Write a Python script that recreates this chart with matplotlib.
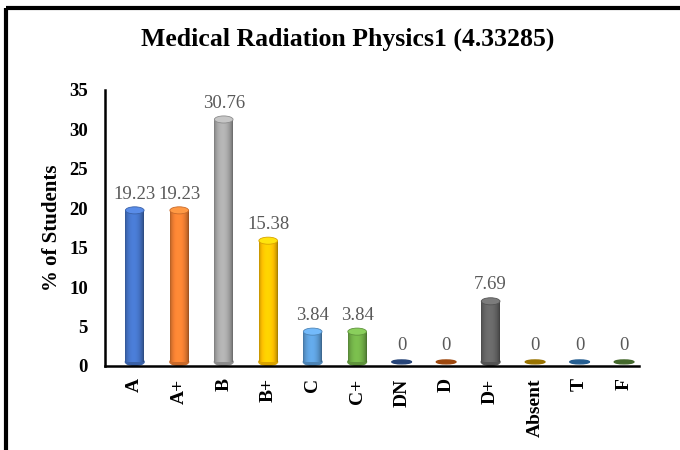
import matplotlib.pyplot as plt
import numpy as np
from matplotlib.patches import Ellipse
from matplotlib.lines import Line2D
from matplotlib.colors import to_rgb

# grade distribution
grades = ['A', 'A+', 'B', 'B+', 'C', 'C+', 'DN', 'D', 'D+', 'Absent', 'T', 'F']
percent = [19.23, 19.23, 30.76, 15.38, 3.84, 3.84, 0, 0, 7.69, 0, 0, 0]
colors = ['#4472C4', '#ED7D31', '#A5A5A5', '#FFC000', '#5B9BD5', '#70AD47',
          '#264478', '#9E480E', '#636363', '#997300', '#255E91', '#43682B']

serif = ['Liberation Serif', 'DejaVu Serif']

fig = plt.figure(figsize=(6.8, 4.5), dpi=100)
ax = fig.add_axes([0.154, 0.187, 0.786, 0.613])

x = np.arange(len(grades))
w = 0.42
base = 0.5   # cylinder floats slightly above the floor
ell_h = 0.9

# shading across the cylinder body
t = np.linspace(0, 1, 64)
shade = 0.72 + 0.45 * np.sin(np.pi * t) ** 0.6 - 0.12 * t

bars = ax.bar(x, percent, width=w, bottom=base, color=colors, zorder=2)
for xi, v, c, b in zip(x, percent, colors, bars):
    rgb = np.array(to_rgb(c))
    if v > 0:
        grad = np.clip(rgb[None, :] * shade[:, None], 0, 1)[None, :, :]
        im = ax.imshow(grad, extent=(xi - w / 2, xi + w / 2, base, base + v),
                       aspect='auto', zorder=3, interpolation='bilinear')
        im.set_clip_path(b)
        ax.add_patch(Ellipse((xi, base), w, ell_h, color=rgb * 0.85, zorder=1.5))
        top = np.clip(rgb * 1.12 + 0.05, 0, 1)
        ax.add_patch(Ellipse((xi, base + v), w, ell_h, facecolor=top,
                             edgecolor=rgb * 0.85, lw=0.6, zorder=4))
    else:
        ax.add_patch(Ellipse((xi, base), w * 1.05, ell_h * 0.55, color=rgb, zorder=4))
    ax.text(xi, v + 2.0, f'{v:g}', ha='center', va='baseline',
            fontsize=13.5, color='#595959', family=serif, zorder=5)

ax.set_xlim(-0.675, 11.34)
ax.set_ylim(0, 35)
ax.set_yticks(range(0, 36, 5))
ax.set_xticks(x)
ax.set_xticklabels(grades, rotation=90, fontsize=14, fontweight='bold', family=serif)
for lab in ax.get_yticklabels():
    lab.set_fontsize(13.5)
    lab.set_fontweight('bold')
    lab.set_family(serif)
ax.tick_params(axis='both', length=0)
ax.tick_params(axis='y', pad=12)
ax.tick_params(axis='x', pad=9)

for s in ['top', 'right']:
    ax.spines[s].set_visible(False)
for s in ['left', 'bottom']:
    ax.spines[s].set_linewidth(1.8)
    ax.spines[s].set_color('black')

ax.set_ylabel('% of Students', fontsize=15, fontweight='bold', family=serif)
ax.yaxis.set_label_coords(-0.08, 0.5)

fig.text(0.512, 0.912, 'Medical Radiation Physics1 (4.33285)', ha='center', va='center',
         fontsize=18.5, fontweight='bold', family=serif)

# frame lines along top and left edge
fig.add_artist(Line2D([0.0088, 1.0], [0.982, 0.982], color='black', lw=3,
                      transform=fig.transFigure, solid_capstyle='butt'))
fig.add_artist(Line2D([0.0088, 0.0088], [0.0, 0.982], color='black', lw=3,
                      transform=fig.transFigure, solid_capstyle='butt'))

fig.savefig('out.png', dpi=100)
